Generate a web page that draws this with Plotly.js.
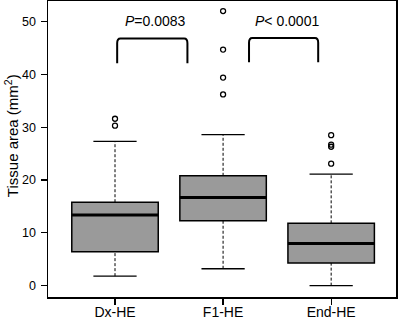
<!DOCTYPE html>
<html>
<head>
<meta charset="utf-8">
<script src="https://cdn.plot.ly/plotly-3.0.1.min.js"></script>
<style>html,body{margin:0;padding:0;background:#fff;}#chart{width:400px;height:319px;}</style>
</head>
<body>
<div id="chart"></div>
<script>
// ---- data ----
const categories = ['Dx-HE', 'F1-HE', 'End-HE'];
const positions = [1, 2, 3];
const lowerWhisker = [1.8, 3.2, 0.0];
const q1 = [6.4, 12.3, 4.3];
const median = [13.4, 16.7, 8.0];
const q3 = [15.8, 20.8, 11.8];
const upperWhisker = [27.3, 28.6, 21.1];
const outliersDx = [30.3, 31.6];
const outliersF1 = [36.2, 39.4, 44.7, 52.0];
const outliersEnd = [23.1, 26.3, 26.7, 28.5];
const yTicks = [0, 10, 20, 30, 40, 50];
// significance brackets
const bracketFrom = [1.02, 2.24];
const bracketTo = [1.67, 2.88];
const bracketTop = [46.8, 46.9];
const bracketBottom = [42.1, 42.3];
const pLabels = ['<i>P</i>=0.0083', '<i>P</i>&lt; 0.0001'];
const yTitle = 'Tissue area (mm<sup>2</sup>)';

// ---- drawing ----
const FONT = 'Liberation Sans, Arial, sans-serif';
const boxHalf = 0.4, capHalf = 0.2;
const shapes = [];
positions.forEach((p, i) => {
  shapes.push({type:'line', xref:'x', yref:'y', x0:p, x1:p, y0:q3[i], y1:upperWhisker[i],
    line:{color:'#000', width:1, dash:'3px,2px'}});
  shapes.push({type:'line', xref:'x', yref:'y', x0:p, x1:p, y0:lowerWhisker[i], y1:q1[i],
    line:{color:'#000', width:1, dash:'3px,2px'}});
  shapes.push({type:'line', xref:'x', yref:'y', x0:p-capHalf, x1:p+capHalf, y0:upperWhisker[i], y1:upperWhisker[i],
    line:{color:'#000', width:1.3}});
  shapes.push({type:'line', xref:'x', yref:'y', x0:p-capHalf, x1:p+capHalf, y0:lowerWhisker[i], y1:lowerWhisker[i],
    line:{color:'#000', width:1.3}});
  shapes.push({type:'rect', xref:'x', yref:'y', x0:p-boxHalf, x1:p+boxHalf, y0:q1[i], y1:q3[i],
    fillcolor:'#9a9a9a', line:{color:'#000', width:1.5}});
  shapes.push({type:'line', xref:'x', yref:'y', x0:p-boxHalf, x1:p+boxHalf, y0:median[i], y1:median[i],
    line:{color:'#000', width:3}});
});
const annotations = [];
bracketFrom.forEach((a, i) => {
  const b = bracketTo[i], t = bracketTop[i], bo = bracketBottom[i];
  const rx = 0.03, ry = 0.9;
  const path = `M ${a},${bo} L ${a},${t-ry} Q ${a},${t} ${a+rx},${t} L ${b-rx},${t} Q ${b},${t} ${b},${t-ry} L ${b},${bo}`;
  shapes.push({type:'path', xref:'x', yref:'y', path:path, line:{color:'#000', width:2}});
  annotations.push({x:(a+b)/2 + 0.03, y:t + 3.3, xref:'x', yref:'y', text:pLabels[i], showarrow:false,
    xanchor:'center', yanchor:'middle', font:{family:FONT, size:14, color:'#000'}});
});
annotations.push({xref:'paper', yref:'paper', x:-0.103, y:0.544, text:yTitle, textangle:-90,
  showarrow:false, xanchor:'center', yanchor:'middle', font:{family:FONT, size:15, color:'#000'}});

const outlierX = [], outlierY = [];
[outliersDx, outliersF1, outliersEnd].forEach((arr, i) => {
  arr.forEach(v => { outlierX.push(positions[i]); outlierY.push(v); });
});

const traces = [{
  type:'scatter', mode:'markers', x:outlierX, y:outlierY,
  marker:{symbol:'circle-open', size:5, color:'#000', line:{width:1.3, color:'#000'}},
  hoverinfo:'y', showlegend:false
}];

const layout = {
  width:400, height:319,
  margin:{l:48, r:4, t:1, b:22},
  paper_bgcolor:'#fff', plot_bgcolor:'#fff',
  font:{family:FONT, color:'#000'},
  showlegend:false,
  xaxis:{
    range:[0.38, 3.6], tickvals:positions, ticktext:categories,
    ticks:'outside', ticklen:6, tickwidth:1.3, tickcolor:'#000',
    showline:true, mirror:true, linecolor:'#000', linewidth:1.5,
    showgrid:false, zeroline:false, tickfont:{size:14, color:'#000'},
    ticklabelstandoff:-4
  },
  yaxis:{
    range:[-2.15, 53.9], tickvals:yTicks,
    ticks:'outside', ticklen:6, tickwidth:1.3, tickcolor:'#000',
    showline:true, mirror:true, linecolor:'#000', linewidth:1.5,
    showgrid:false, zeroline:false, tickfont:{size:12.5, color:'#000'},
    ticklabelstandoff:2
  },
  shapes:shapes,
  annotations:annotations
};
Plotly.newPlot('chart', traces, layout, {displayModeBar:false, staticPlot:true});
</script>
</body>
</html>
